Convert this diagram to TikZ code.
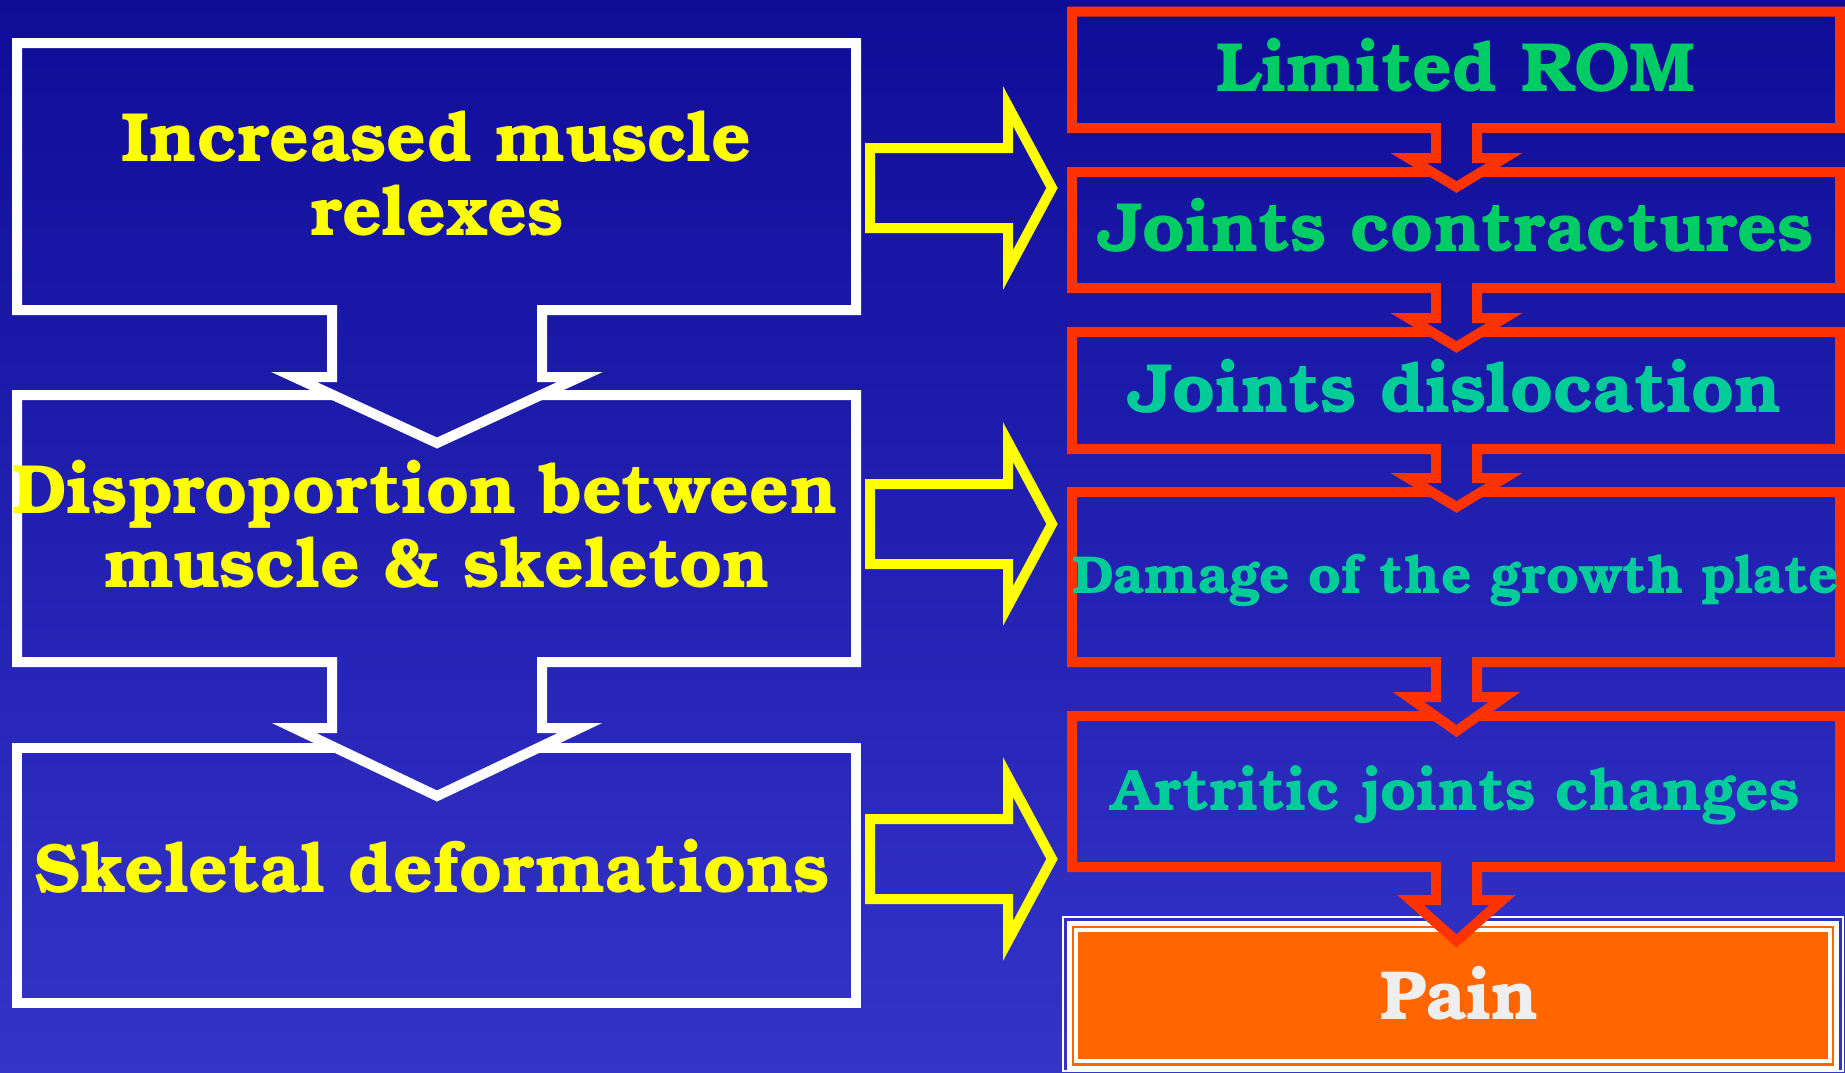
\documentclass[tikz,border=0pt]{standalone}
\usepackage{fontspec}
\newfontfamily\bk{texgyrebonum-bold.otf}
\definecolor{bgtop}{HTML}{0F0C98}
\definecolor{bgbot}{HTML}{3434C9}
\definecolor{txtyel}{HTML}{FFFF00}
\definecolor{arryel}{HTML}{FFFF00}
\definecolor{boxred}{HTML}{FF3300}
\definecolor{grnA}{HTML}{00CC66}
\definecolor{grnB}{HTML}{00CC99}
\definecolor{painor}{HTML}{FF6600}
\definecolor{paintxt}{HTML}{EEEEEE}
\newcommand\bgfill[1]{\begin{scope}\clip #1; \shade[top color=bgtop,bottom color=bgbot] (0,0) rectangle (1845,1072);\end{scope}}
\newcommand\rbox[5]{%
  \bgfill{({1456.5-#5},#3) -- (1456.5,#4) -- ({1456.5+#5},#3) -- cycle}%
  \draw[rline] (1072,#1) -- (1840,#1) -- (1840,#2) -- (1477,#2) -- (1477,#3) -- ({1456.5+#5},#3) -- (1456.5,#4) -- ({1456.5-#5},#3) -- (1436,#3) -- (1436,#2) -- (1072,#2) -- cycle;}
\begin{document}
\begin{tikzpicture}[x=1pt,y=-1pt,
  wline/.style={draw=white,line width=10pt},
  yline/.style={draw=arryel,line width=10pt},
  rline/.style={draw=boxred,line width=10pt},
  lt/.style={anchor=base,inner sep=0pt,text=txtyel,font=\bk\fontsize{69.7}{69.7}\selectfont},
  rt/.style={anchor=base,inner sep=0pt,font=\bk\fontsize{69.7}{69.7}\selectfont},
  yarrow/.pic={\draw[yline] (870,148) -- (1008,148) -- (1008,106) -- (1052,188) -- (1008,270) -- (1008,228) -- (870,228) -- cycle;}
]
\useasboundingbox (0,0) rectangle (1845,1072);
\shade[top color=bgtop,bottom color=bgbot] (0,0) rectangle (1845,1072);

% left column
\draw[wline] (17,748) rectangle (856,1003);
\bgfill{(294,728) -- (437,796) -- (580,728) -- cycle}
\draw[wline] (17,395) -- (856,395) -- (856,662) -- (542,662) -- (542,728) -- (580,728) -- (437,796) -- (294,728) -- (332,728) -- (332,662) -- (17,662) -- cycle;
\bgfill{(294,377) -- (437,443) -- (580,377) -- cycle}
\draw[wline] (17,43) -- (856,43) -- (856,310) -- (542,310) -- (542,377) -- (580,377) -- (437,443) -- (294,377) -- (332,377) -- (332,310) -- (17,310) -- cycle;

% yellow arrows
\pic at (0,0) {yarrow};
\pic at (0,336) {yarrow};
\pic at (0,671) {yarrow};

% pain box
\draw[white,line width=2pt] (1063,917) rectangle (1843,1071);
\draw[white,line width=5pt,fill=painor] (1069.5,923) rectangle (1836.5,1068);
\draw[white,line width=3.5pt] (1076,930) rectangle (1830,1061);

% right column
\rbox{716}{867}{900}{941}{46}
\rbox{492}{662}{697}{731}{48}
\rbox{332}{449}{478}{507}{48}
\rbox{172}{288}{318}{347}{48}
\rbox{11.5}{128}{158}{187}{48}

% texts
\node[lt] (t1a) at (437,161) {Increased muscle};
\node[lt] (t1b) at (437,235) {relexes};
\node[lt] (t2a) at (425,513) {Disproportion between};
\node[lt] (t2b) at (437,587) {muscle \& skeleton};
\node[lt] (t3) at (432,892) {Skeletal deformations};

\node[rt,text=grnA] (r1) at (1456,91) {Limited ROM};
\node[rt,text=grnA] (r2) at (1456,251) {Joints contractures};
\node[rt,text=grnB] (r3) at (1455,412) {Joints dislocation};
\node[rt,text=grnB,font=\bk\fontsize{53.4}{53.4}\selectfont] (r4) at (1456,593) {Damage of the growth plate};
\node[rt,text=grnB,font=\bk\fontsize{58.7}{58.7}\selectfont] (r5) at (1456,810) {Artritic joints changes};
\node[rt,text=paintxt,font=\bk\fontsize{69.5}{69.5}\selectfont] (pain) at (1460,1019) {Pain};
\end{tikzpicture}
\end{document}
